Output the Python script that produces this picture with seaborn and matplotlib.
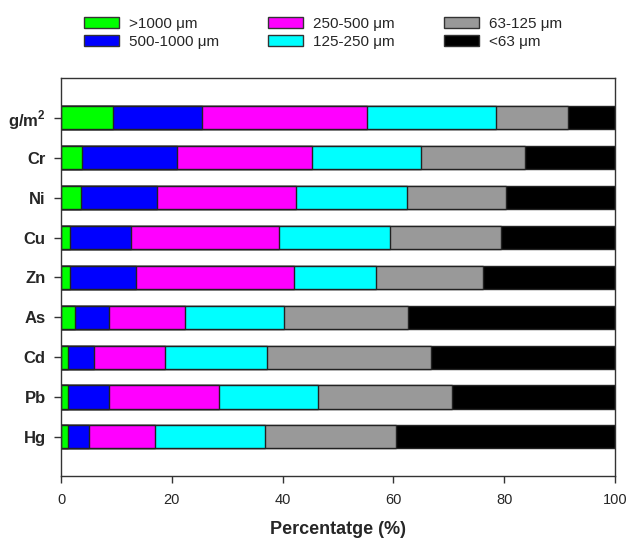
import matplotlib
matplotlib.use("Agg")
import matplotlib.pyplot as plt
import seaborn as sns
import numpy as np
import pandas as pd
from matplotlib.patches import Patch

categories = ["g/m$^\\mathbf{2}$", "Cr", "Ni", "Cu", "Zn", "As", "Cd", "Pb", "Hg"]
size_classes = [">1000 μm", "500-1000 μm", "250-500 μm", "125-250 μm", "63-125 μm", "<63 μm"]
colors = ["#00FF00", "#0000FF", "#FF00FF", "#00FFFF", "#999999", "#000000"]

gt1000 = [9.4, 3.8, 3.6, 1.6, 1.6, 2.6, 1.3, 1.3, 1.3]
s500_1000 = [16.0, 17.2, 13.8, 11.1, 12.0, 6.1, 4.6, 7.3, 3.8]
s250_500 = [29.9, 24.3, 25.1, 26.7, 28.5, 13.7, 12.9, 20.0, 11.8]
s125_250 = [23.3, 19.7, 20.0, 20.0, 14.7, 17.8, 18.3, 17.7, 19.9]
s63_125 = [13.0, 18.8, 17.8, 20.1, 19.3, 22.5, 29.7, 24.2, 23.6]
lt63 = [8.4, 16.2, 19.7, 20.5, 23.9, 37.3, 33.2, 29.5, 39.6]

series = [gt1000, s500_1000, s250_500, s125_250, s63_125, lt63]
cum = np.cumsum(np.array(series), axis=0)

sns.set_theme(style="white")
plt.rcParams["font.family"] = ["Liberation Sans", "DejaVu Sans"]
plt.rcParams["mathtext.fontset"] = "custom"
plt.rcParams["mathtext.rm"] = "Liberation Sans"
plt.rcParams["mathtext.bf"] = "Liberation Sans:bold"

fig = plt.figure(figsize=(6.27, 5.41), dpi=100)
ax = fig.add_axes([61 / 627, 1 - 476 / 541, (615 - 61) / 627, (476 - 78) / 541])

order = list(range(len(categories)))
for i in range(len(series) - 1, -1, -1):
    df = pd.DataFrame({"cat": order, "val": cum[i]})
    sns.barplot(data=df, x="val", y="cat", orient="h", order=order, color=colors[i],
                saturation=1, width=0.58, edgecolor="#222222", linewidth=1.0,
                ax=ax)

ax.set_xlim(0, 100)
ax.set_ylim(8.98, -1.0)
ax.set_yticks(order)
ax.set_yticklabels(categories, fontsize=12, fontweight="bold")
ax.set_xticks([0, 20, 40, 60, 80, 100])
ax.set_xticklabels(["0", "20", "40", "60", "80", "100"], fontsize=10.5)
ax.set_xlabel("Percentatge (%)", fontsize=13, fontweight="bold", labelpad=10)
ax.set_ylabel("")
ax.tick_params(axis="both", direction="out", length=5, width=1, color="#333333", left=True, bottom=True)
ax.tick_params(axis="x", pad=7)
ax.tick_params(axis="y", pad=6)
for sp in ax.spines.values():
    sp.set_color("#333333")
    sp.set_linewidth(1.0)

leg = ax.get_legend()
if leg is not None:
    leg.remove()
hs = [Patch(facecolor=colors[i], edgecolor="#333333", linewidth=1.0) for i in range(6)]
fig.legend(hs, size_classes, ncol=3, loc="upper left",
           bbox_to_anchor=(84 / 627, 1 - 17 / 541), frameon=False, fontsize=11,
           handlelength=2.3, handleheight=0.7, handletextpad=0.65, columnspacing=3.2,
           labelspacing=0.25, borderpad=0, borderaxespad=0)

fig.savefig("out.png", dpi=100)
